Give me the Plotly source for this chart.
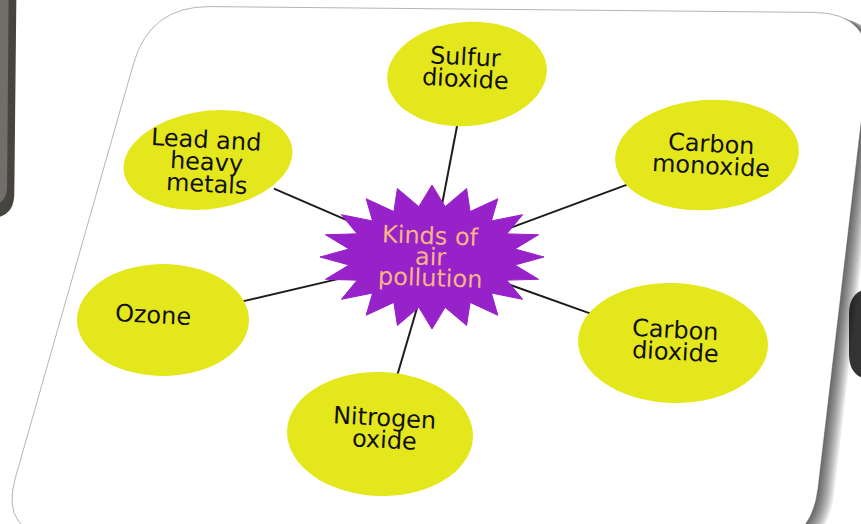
import numpy as np
import plotly.graph_objects as go

# ---------------- data ----------------
center_label = ["Kinds of", "air", "pollution"]
node_labels = [
    ["Sulfur", "dioxide"],
    ["Carbon", "monoxide"],
    ["Carbon", "dioxide"],
    ["Nitrogen", "oxide"],
    ["Ozone"],
    ["Lead and", "heavy", "metals"],
]

# ---------------- layout (pixel positions / sizes) ----------------
W, H = 861, 524
node_cx = [467, 707, 673, 380, 163, 208]
node_cy = [74, 155, 343, 434, 320, 160]
node_rx = [80, 92, 95, 93, 86, 85]
node_ry = [52, 55, 60, 62, 56, 49]
node_tilt = [-5, -4, 2, 2, 0, -8]
text_dx = [-2, 4, 2, 4, -10, -2]
text_dy = [-6, 0, -2, -5, -5, 2]
star_cx, star_cy = 432, 257
star_outer = (112, 72)
star_inner = (84, 51)
star_points = 20

YELLOW = "#e5e71d"
PURPLE = "#9822c9"
PEACH = "#f7b584"
FONT = "DejaVu Sans"


def rounded_poly(pts, r):
    n = len(pts)
    path = ""
    for i in range(n):
        p0 = np.array(pts[i - 1], float)
        p1 = np.array(pts[i], float)
        p2 = np.array(pts[(i + 1) % n], float)
        a = p1 + (p0 - p1) / np.linalg.norm(p0 - p1) * r
        b = p1 + (p2 - p1) / np.linalg.norm(p2 - p1) * r
        path += ("M" if i == 0 else "L") + f"{a[0]:.1f},{a[1]:.1f} Q{p1[0]:.1f},{p1[1]:.1f} {b[0]:.1f},{b[1]:.1f} "
    return path + "Z"


def ellipse_path(cx, cy, rx, ry, tilt_deg, n=72):
    th = np.deg2rad(tilt_deg)
    t = np.linspace(0, 2 * np.pi, n, endpoint=False)
    x = cx + rx * np.cos(t) * np.cos(th) - ry * np.sin(t) * np.sin(th)
    y = cy + rx * np.cos(t) * np.sin(th) + ry * np.sin(t) * np.cos(th)
    return "M" + " L".join(f"{a:.1f},{b:.1f}" for a, b in zip(x, y)) + " Z"


shapes = []

# background cards behind
shapes.append(dict(type="path", path=rounded_poly([(-60, -60), (17, -60), (14, 218), (-60, 218)], 24),
                   fillcolor="#45443f", line=dict(width=0), layer="below"))
shapes.append(dict(type="path", path=rounded_poly([(-60, -60), (9, -60), (7, 205), (-60, 205)], 18),
                   fillcolor="rgba(140,139,132,0.6)", line=dict(width=0), layer="below"))
shapes.append(dict(type="path", path=rounded_poly([(849, 288), (930, 288), (930, 380), (849, 380)], 26),
                   fillcolor="#333333", line=dict(width=0), layer="below"))

# main card with soft shadow
card = [(150, 6), (874, 13), (811, 548), (-1, 535)]
for k in range(1, 11):
    shifted = [(x + 1.6 * k, y + 0.6 * k) for x, y in card]
    shapes.append(dict(type="path", path=rounded_poly(shifted, 60),
                       fillcolor="rgba(0,0,0,0.08)", line=dict(width=0), layer="below"))
shapes.append(dict(type="path", path=rounded_poly(card, 60), fillcolor="white",
                   line=dict(color="rgba(90,90,90,0.45)", width=1), layer="below"))

# connector lines
for cx, cy, rx, ry in zip(node_cx, node_cy, node_rx, node_ry):
    dx, dy = cx - star_cx, cy - star_cy
    s = 1.0 / np.sqrt((dx / star_inner[0]) ** 2 + (dy / star_inner[1]) ** 2)
    u = 1.0 / np.sqrt((dx / rx) ** 2 + (dy / ry) ** 2)
    x0, y0 = star_cx + s * dx, star_cy + s * dy
    x1, y1 = cx - u * dx * 0.97, cy - u * dy * 0.97
    shapes.append(dict(type="line", x0=x0, y0=y0, x1=x1, y1=y1,
                       line=dict(color="#1c1c1c", width=2), layer="below"))

# node ellipses
for cx, cy, rx, ry, tl in zip(node_cx, node_cy, node_rx, node_ry, node_tilt):
    shapes.append(dict(type="path", path=ellipse_path(cx, cy, rx, ry, tl),
                       fillcolor=YELLOW, line=dict(width=0), layer="below"))

# star burst
ang = -np.pi / 2 + np.arange(2 * star_points) * np.pi / star_points
rxs = np.where(np.arange(2 * star_points) % 2 == 0, star_outer[0], star_inner[0])
rys = np.where(np.arange(2 * star_points) % 2 == 0, star_outer[1], star_inner[1])
sx = star_cx + rxs * np.cos(ang)
sy = star_cy + rys * np.sin(ang)

fig = go.Figure()
fig.add_trace(go.Scatter(x=np.append(sx, sx[0]), y=np.append(sy, sy[0]), mode="lines",
                         fill="toself", fillcolor=PURPLE, line=dict(color=PURPLE, width=1),
                         hoverinfo="skip", showlegend=False))

annotations = []
LS = 22
for lines, cx, cy, ddx, ddy in zip(node_labels, node_cx, node_cy, text_dx, text_dy):
    n = len(lines)
    for i, t in enumerate(lines):
        annotations.append(dict(x=cx + ddx, y=cy + ddy + (i - (n - 1) / 2) * LS, text=t,
                                showarrow=False, textangle=3, xanchor="center", yanchor="middle",
                                font=dict(family=FONT, size=24, color="#111111")))
n = len(center_label)
for i, t in enumerate(center_label):
    annotations.append(dict(x=star_cx - 2, y=star_cy + (i - (n - 1) / 2) * 21, text=t,
                            showarrow=False, textangle=2, xanchor="center", yanchor="middle",
                            font=dict(family=FONT, size=24, color=PEACH)))

fig.update_layout(
    width=W, height=H, margin=dict(l=0, r=0, t=0, b=0),
    paper_bgcolor="white", plot_bgcolor="white",
    xaxis=dict(range=[0, W], visible=False, fixedrange=True),
    yaxis=dict(range=[H, 0], visible=False, fixedrange=True),
    shapes=shapes, annotations=annotations, showlegend=False,
)
fig.write_html("out.html", config={"displayModeBar": False},
               post_script="document.body.style.margin='0';document.body.style.overflow='hidden';")
